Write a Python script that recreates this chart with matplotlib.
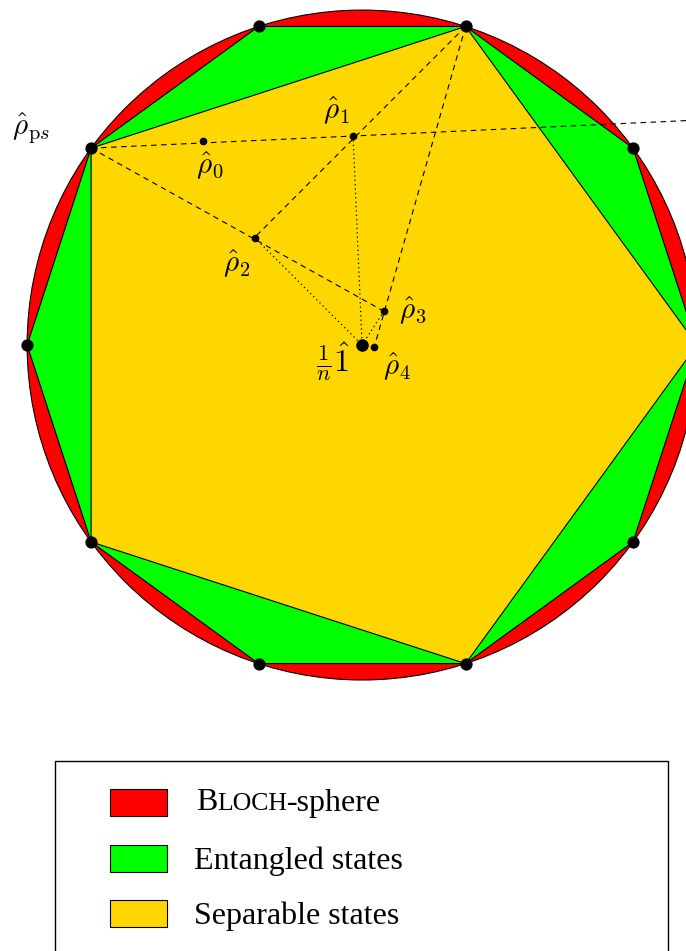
import numpy as np
import matplotlib.pyplot as plt
from matplotlib.patches import Circle, Polygon, Rectangle
from matplotlib.offsetbox import TextArea, HPacker, AnnotationBbox

plt.rcParams['mathtext.fontset'] = 'cm'

# decagon vertices on the unit circle (degrees), pentagon uses every other one
vertex_angles = [0, 36, 72, 108, 144, 180, 216, 252, 288, 324]
pentagon_angles = [0, 72, 144, 216, 288]

# states inside the separable set
state_names = ['rho0', 'rho1', 'rho2', 'rho3', 'rho4', 'one']
state_x = [-0.475, -0.027, -0.321, 0.065, 0.036, 0.0]
state_y = [0.609, 0.624, 0.321, 0.101, -0.007, 0.0]
state_labels = [r'$\hat{\rho}_0$', r'$\hat{\rho}_1$', r'$\hat{\rho}_2$',
                r'$\hat{\rho}_3$', r'$\hat{\rho}_4$', r'$\frac{1}{n}\hat{1}$']
label_x = [-0.454, -0.075, -0.373, 0.152, 0.104, -0.087]
label_y = [0.537, 0.701, 0.245, 0.104, -0.063, -0.051]
label_size = [21, 21, 21, 21, 21, 23]

ps_angle = 144
top_angle = 72

legend_labels = ['BLOCH-sphere', 'Entangled states', 'Separable states']
legend_colors = ['#ff0000', '#00ff00', '#ffd700']

fig = plt.figure(figsize=(6.86, 9.51), dpi=100)
ax = fig.add_axes([0, 0, 1, 1])
ax.set_xlim(-1.081, 0.967)
ax.set_ylim(-1.809, 1.030)
ax.set_aspect('equal')
ax.axis('off')


def on_circle(a):
    return np.cos(np.radians(a)), np.sin(np.radians(a))


ax.add_patch(Circle((0, 0), 1.0, facecolor=legend_colors[0], edgecolor='black', lw=0.8, zorder=1))
deca = [on_circle(a) for a in vertex_angles]
ax.add_patch(Polygon(deca, closed=True, facecolor=legend_colors[1], edgecolor='black', lw=0.8, zorder=2))
penta = [on_circle(a) for a in pentagon_angles]
ax.add_patch(Polygon(penta, closed=True, facecolor=legend_colors[2], edgecolor='black', lw=0.8, zorder=3))

pts = dict(zip(state_names, zip(state_x, state_y)))
pts['ps'] = on_circle(ps_angle)
pts['top'] = on_circle(top_angle)

dash = dict(color='black', lw=0.8, dashes=(5, 4), zorder=4)
dot = dict(color='black', lw=0.9, dashes=(1, 2.5), zorder=4)

# ps -> rho1, continued past the circle
px, py = pts['ps']
qx, qy = pts['rho1']
t = (1.2 - px) / (qx - px)
ax.plot([px, px + t * (qx - px)], [py, py + t * (qy - py)], **dash)
for a, b in [('ps', 'rho3'), ('top', 'rho2'), ('top', 'rho4')]:
    ax.plot([pts[a][0], pts[b][0]], [pts[a][1], pts[b][1]], **dash)
for a in ['rho1', 'rho2', 'rho3']:
    ax.plot([pts[a][0], 0], [pts[a][1], 0], **dot)

vx, vy = zip(*deca)
ax.plot(vx, vy, 'o', color='black', ms=7.8, zorder=6)
ax.plot(state_x[:5], state_y[:5], 'o', color='black', ms=4.5, zorder=6)
ax.plot([0], [0], 'o', color='black', ms=8, zorder=6)

for lab, lx, ly, fs in zip(state_labels, label_x, label_y, label_size):
    ax.text(lx, ly, lab, fontsize=fs, ha='center', va='center', zorder=7)
ax.text(-0.988, 0.648, r'$\hat{\rho}_{\mathrm{p}s}$', fontsize=21, ha='center', va='center')

# legend box, laid out in pixel units
lg = fig.add_axes([0, 0, 1, 1])
lg.set_xlim(0, 686)
lg.set_ylim(951, 0)
lg.axis('off')
lg.add_patch(Rectangle((55, 761), 613, 200, facecolor='white', edgecolor='black', lw=1.0, clip_on=False))
rows = [802, 858, 913]
for y, c in zip(rows, legend_colors):
    lg.add_patch(Rectangle((110, y - 13.5), 57, 27, facecolor=c, edgecolor='black', lw=0.8))

serif = 'Liberation Serif'
# small caps for BLOCH
parts = [TextArea('B', textprops=dict(fontsize=23, family=serif)),
         TextArea('LOCH', textprops=dict(fontsize=18.5, family=serif)),
         TextArea('-sphere', textprops=dict(fontsize=23, family=serif))]
box = HPacker(children=parts, align='baseline', pad=0, sep=0)
lg.add_artist(AnnotationBbox(box, (196, rows[0] + 1), box_alignment=(0, 0.5), frameon=False, pad=0))
for y, lab in zip(rows[1:], legend_labels[1:]):
    lg.text(194, y, lab, fontsize=23, family=serif, va='center_baseline')

fig.savefig('out.png', dpi=100)
